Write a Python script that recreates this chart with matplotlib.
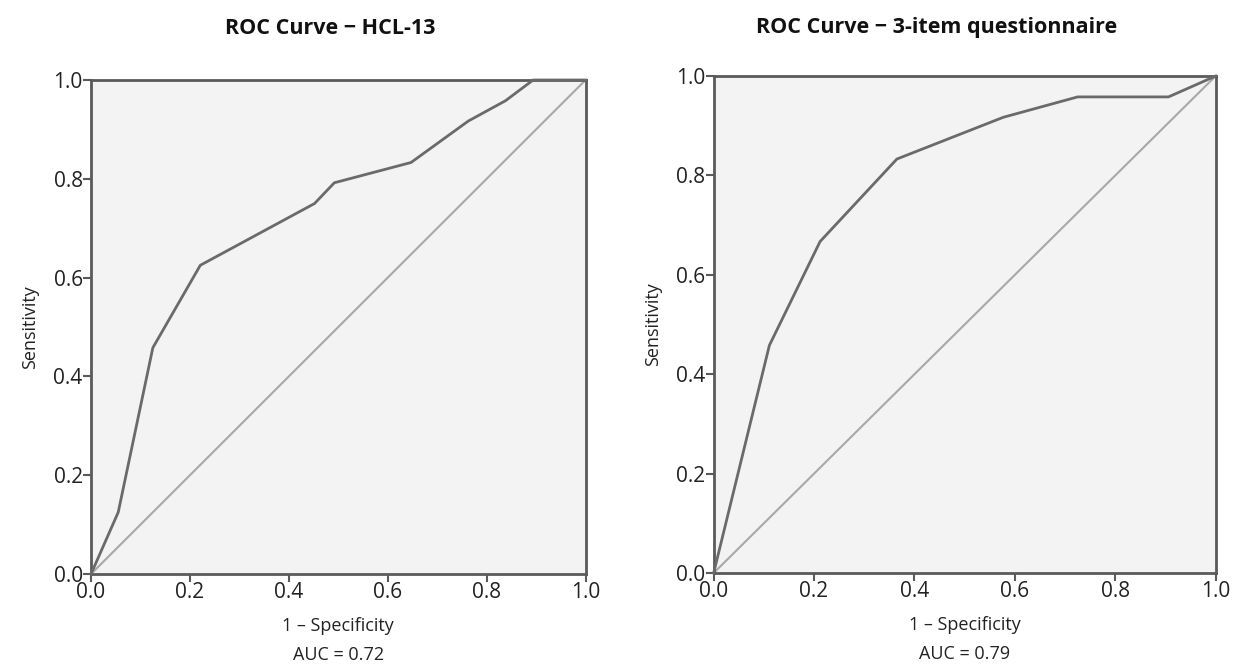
import matplotlib.pyplot as plt

# ROC points
hcl_fpr = [0.0, 0.055, 0.125, 0.221, 0.452, 0.492, 0.647, 0.763, 0.838, 0.894, 1.0]
hcl_tpr = [0.0, 0.125, 0.458, 0.625, 0.750, 0.792, 0.833, 0.917, 0.958, 1.0, 1.0]

q3_fpr = [0.0, 0.111, 0.212, 0.365, 0.577, 0.725, 0.906, 1.0]
q3_tpr = [0.0, 0.458, 0.667, 0.833, 0.917, 0.958, 0.958, 1.0]

titles = ["ROC Curve \u2212 HCL-13", "ROC Curve \u2212 3-item questionnaire"]
auc_labels = ["AUC = 0.72", "AUC = 0.79"]
ticks = [0.0, 0.2, 0.4, 0.6, 0.8, 1.0]

plt.rcParams['font.family'] = ['Open Sans', 'DejaVu Sans']

fig = plt.figure(figsize=(12.52, 6.64), dpi=100)
ax1 = fig.add_axes([0.0727, 0.1355, 0.395, 0.744])
ax2 = fig.add_axes([0.570, 0.137, 0.401, 0.7485])

curves = [(hcl_fpr, hcl_tpr), (q3_fpr, q3_tpr)]
title_x = [330 / 1252, 937 / 1252]

for i, ax in enumerate([ax1, ax2]):
    fpr, tpr = curves[i]
    ax.set_facecolor('#f3f3f3')
    ax.plot([0, 1], [0, 1], color='#a8a8a8', lw=1.5, zorder=2)
    ax.plot(fpr, tpr, color='#6a6a6a', lw=2.0, zorder=3, clip_on=False)
    ax.set_xlim(0, 1)
    ax.set_ylim(0, 1)
    ax.set_xticks(ticks)
    ax.set_yticks(ticks)
    ax.set_xticklabels([f"{t:.1f}" for t in ticks])
    ax.set_yticklabels([f"{t:.1f}" for t in ticks])
    for s in ax.spines.values():
        s.set_color('#5a5a5a')
        s.set_linewidth(2.0)
    ax.tick_params(direction='out', length=6, width=1.5, color='#5a5a5a',
                   labelsize=15, labelcolor='#222222', pad=0)
    ax.set_ylabel("Sensitivity", fontsize=13, color='#222222', labelpad=10)
    ax.set_xlabel("1 \u2013 Specificity\n" + auc_labels[i], fontsize=13,
                  color='#222222', linespacing=1.75, labelpad=10)
    fig.text(title_x[i], 1 - 28 / 664, titles[i], ha='center', va='center',
             fontsize=15.5, fontweight='bold', color='#111111')

fig.savefig('out.png', dpi=100)
